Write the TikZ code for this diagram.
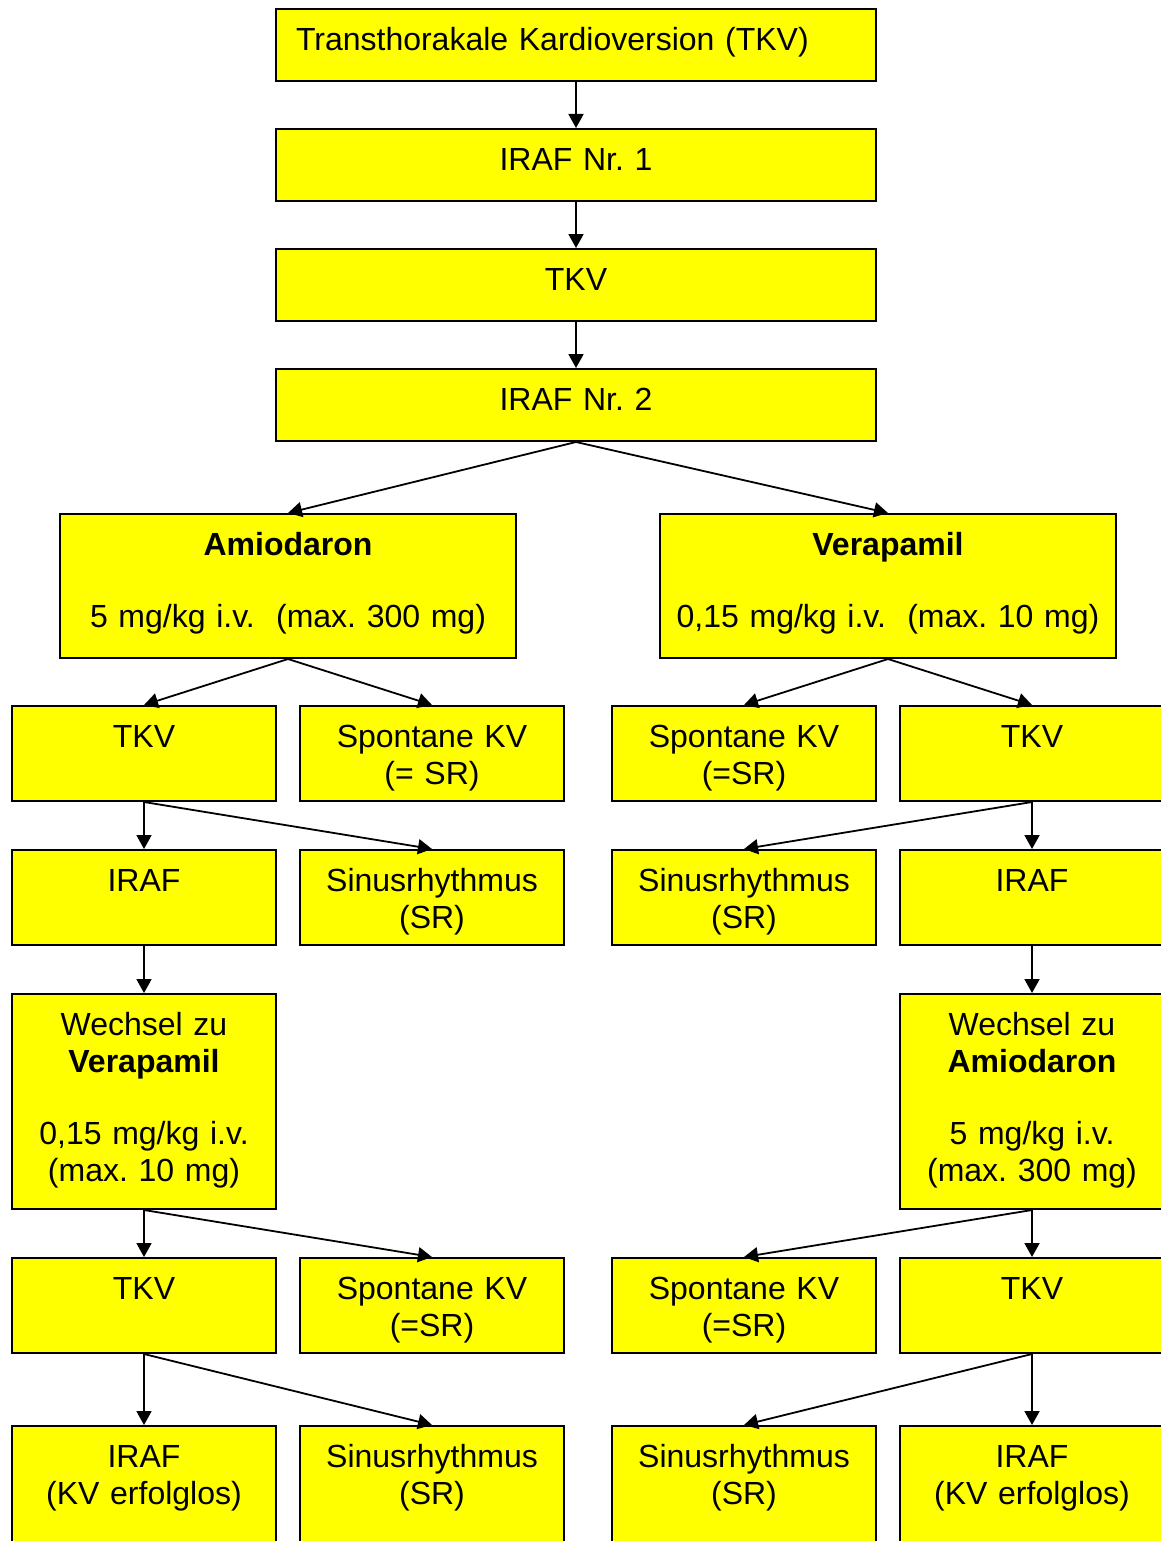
\documentclass[tikz,border=0pt]{standalone}
\usepackage{fontspec}
\setmainfont{Liberation Sans}
\usetikzlibrary{arrows.meta}
\definecolor{boxyellow}{RGB}{255,255,0}

\tikzset{
  box/.style={draw, fill=boxyellow, line width=1pt, inner sep=0pt,
    anchor=north west, align=center, text height=20.75pt},
  wide/.style={box, text width=300pt, text depth=15.25pt},
  drug/.style={box, text width=228pt, text depth=51.25pt},
  small/.style={box, text width=132pt, text depth=26.75pt},
  tall/.style={box, text width=132pt, text depth=86.75pt},
  last/.style={box, text width=132pt, text depth=44.25pt}
}

\begin{document}
\begin{tikzpicture}[x=0.5pt, y=-0.5pt, >={Triangle[length=7pt,width=7.5pt]},
    font=\fontsize{16}{18.5}\selectfont\frenchspacing, line width=0.9pt]

  \useasboundingbox (0,0) rectangle (1161,1541);
  \clip (0,0) rectangle (1161,1541);

  \node[wide, align=left] (tkv0) at (275,8) {\hspace*{10pt}Transthorakale Kardioversion (TKV)};
  \node[wide] (iraf1) at (275,128) {IRAF Nr. 1};
  \node[wide] (tkv1) at (275,248) {TKV};
  \node[wide] (iraf2) at (275,368) {IRAF Nr. 2};

  \node[drug] (amio) at (59,513) {\textbf{Amiodaron}\\[17.5pt]5 mg/kg i.v.\ \ (max. 300 mg)};
  \node[drug] (vera) at (659,513) {\textbf{Verapamil}\\[17.5pt]0,15 mg/kg i.v.\ \ (max. 10 mg)};

  % left branch
  \node[small] (lt1) at (11,705) {TKV};
  \node[small] (ls1) at (299,705) {Spontane KV\\(= SR)};
  \node[small] (li1) at (11,849) {IRAF};
  \node[small] (lr1) at (299,849) {Sinusrhythmus\\(SR)};
  \node[tall] (lw) at (11,993) {Wechsel zu\\\textbf{Verapamil}\\[17.5pt]0,15 mg/kg i.v.\\(max. 10 mg)};
  \node[small] (lt2) at (11,1257) {TKV};
  \node[small] (ls2) at (299,1257) {Spontane KV\\(=SR)};
  \node[last] (li2) at (11,1425) {IRAF\\(KV erfolglos)};
  \node[last] (lr2) at (299,1425) {Sinusrhythmus\\(SR)};

  % right branch
  \node[small] (rs1) at (611,705) {Spontane KV\\(=SR)};
  \node[small] (rt1) at (899,705) {TKV};
  \node[small] (rr1) at (611,849) {Sinusrhythmus\\(SR)};
  \node[small] (ri1) at (899,849) {IRAF};
  \node[tall] (rw) at (899,993) {Wechsel zu\\\textbf{Amiodaron}\\[17.5pt]5 mg/kg i.v.\\(max. 300 mg)};
  \node[small] (rs2) at (611,1257) {Spontane KV\\(=SR)};
  \node[small] (rt2) at (899,1257) {TKV};
  \node[last] (rr2) at (611,1425) {Sinusrhythmus\\(SR)};
  \node[last] (ri2) at (899,1425) {IRAF\\(KV erfolglos)};

  \draw[->] (tkv0.south) -- (iraf1.north);
  \draw[->] (iraf1.south) -- (tkv1.north);
  \draw[->] (tkv1.south) -- (iraf2.north);
  \draw[->] (iraf2.south) -- (amio.north);
  \draw[->] (iraf2.south) -- (vera.north);

  \draw[->] (amio.south) -- (lt1.north);
  \draw[->] (amio.south) -- (ls1.north);
  \draw[->] (lt1.south) -- (li1.north);
  \draw[->] (lt1.south) -- (lr1.north);
  \draw[->] (li1.south) -- (lw.north);
  \draw[->] (lw.south) -- (lt2.north);
  \draw[->] (lw.south) -- (ls2.north);
  \draw[->] (lt2.south) -- (li2.north);
  \draw[->] (lt2.south) -- (lr2.north);

  \draw[->] (vera.south) -- (rs1.north);
  \draw[->] (vera.south) -- (rt1.north);
  \draw[->] (rt1.south) -- (rr1.north);
  \draw[->] (rt1.south) -- (ri1.north);
  \draw[->] (ri1.south) -- (rw.north);
  \draw[->] (rw.south) -- (rs2.north);
  \draw[->] (rw.south) -- (rt2.north);
  \draw[->] (rt2.south) -- (rr2.north);
  \draw[->] (rt2.south) -- (ri2.north);

\end{tikzpicture}
\end{document}
